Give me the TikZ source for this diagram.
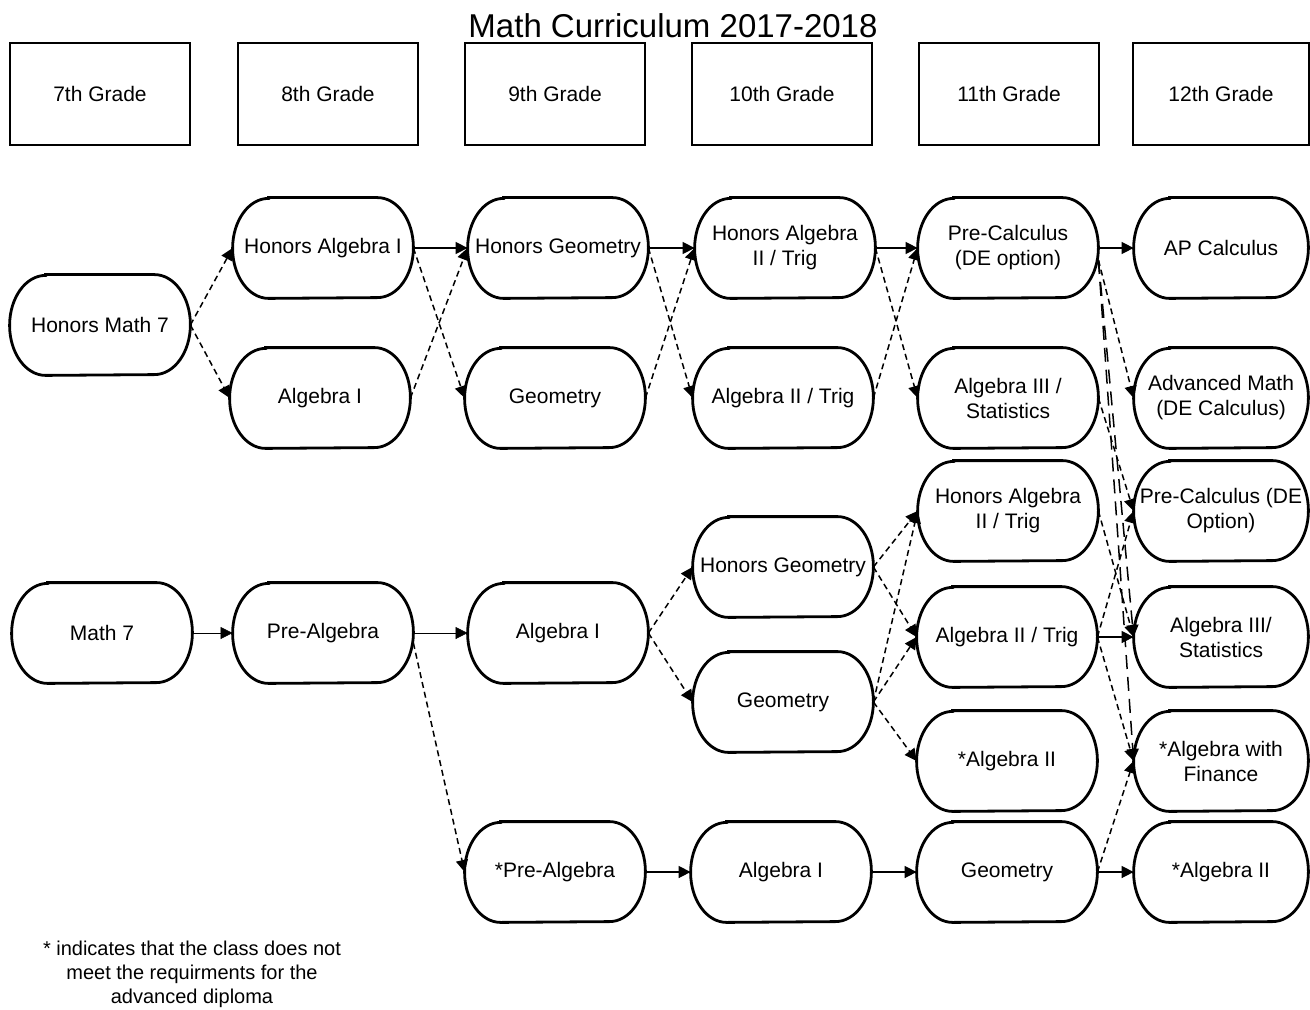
\documentclass[tikz,border=0pt]{standalone}
\usepackage{fontspec}
\setmainfont{Liberation Sans}
\usetikzlibrary{arrows.meta,calc}
\tikzset{
  crs/.style={draw=none, minimum width=90pt, minimum height=50pt, inner sep=0pt, align=center, font=\fontsize{10.5}{12.5}\selectfont},
  crsline/.style={line width=1.4pt},
  hdr/.style={draw, line width=1.2pt, minimum width=90pt, minimum height=51pt, inner sep=0pt, font=\fontsize{10.5}{12.5}\selectfont},
  conn/.style={line width=0.75pt, -{Triangle[length=6pt,width=6pt]}},
  sdash/.style={conn, dash pattern=on 3pt off 2pt},
  ldash/.style={conn, dash pattern=on 7pt off 4pt},
}
\newcommand{\course}[5][90pt]{%
  \node[crs, minimum width=#1] (#2) at (#3,#4) {#5};
  \draw[crsline] ([xshift=18pt]#2.north west) -- ([xshift=-18pt]#2.north east)
    arc[start angle=90,end angle=0,x radius=18pt,y radius=25pt]
    arc[start angle=0,end angle=-90,x radius=18pt,y radius=25pt]
    -- ([xshift=18pt]#2.south west)
    arc[start angle=270,end angle=180,x radius=18pt,y radius=25pt]
    arc[start angle=180,end angle=90,x radius=18pt,y radius=25pt] -- cycle;
}
\begin{document}
\begin{tikzpicture}[x=0.5pt,y=-0.5pt]
\useasboundingbox (0,0) rectangle (1310,1010);
% title
\node[font=\fontsize{16.5}{20}\selectfont] (title) at (673,26) {Math Curriculum 2017-2018};
% headers
\node[hdr] (h7) at (100,94) {7th Grade};
\node[hdr] (h8) at (328,94) {8th Grade};
\node[hdr] (h9) at (555,94) {9th Grade};
\node[hdr] (h10) at (782,94) {10th Grade};
\node[hdr] (h11) at (1009,94) {11th Grade};
\node[hdr, minimum width=88pt] (h12) at (1221,94) {12th Grade};
% upper track
\course{HM7}{100}{325}{Honors Math 7}
\course{HA1}{323}{248}{Honors Algebra I}
\course{A1}{320}{398}{Algebra I}
\course{HG}{558}{248}{Honors Geometry}
\course{G}{555}{398}{Geometry}
\course{HA2}{785}{248}{Honors Algebra\\II / Trig}
\course{A2}{783}{398}{Algebra II / Trig}
\course{PC}{1008}{248}{Pre-Calculus\\(DE option)}
\course{A3}{1008}{398}{Algebra III /\\Statistics}
\course[87pt]{AP}{1221}{248}{AP Calculus}
\course[87pt]{AM}{1221}{398}{Advanced Math\\(DE Calculus)}
\course[87pt]{PCD}{1221}{511}{Pre-Calculus (DE\\Option)}
% lower track
\course{M7}{102}{633}{Math 7}
\course{PA}{323}{633}{Pre-Algebra}
\course{A19}{558}{633}{Algebra I}
\course{PA9}{555}{872}{*Pre-Algebra}
\course{HG10}{783}{567}{Honors Geometry}
\course{G10}{783}{702}{Geometry}
\course{A110}{781}{872}{Algebra I}
\course{HA2L}{1008}{511}{Honors Algebra\\II / Trig}
\course{A2L}{1007}{637}{Algebra II / Trig}
\course{A2S}{1007}{761}{*Algebra II}
\course{GL}{1007}{872}{Geometry}
\course[87pt]{A3R}{1221}{637}{Algebra III/\\Statistics}
\course[87pt]{AwF}{1221}{761}{*Algebra with\\Finance}
\course[87pt]{A2R}{1221}{872}{*Algebra II}
% footnote
\node[align=center, font=\fontsize{10}{12}\selectfont] (note) at (192,974) {* indicates that the class does not\\meet the requirments for the\\advanced diploma};
% upper connectors
\draw[sdash] (HM7.east) -- (HA1.west);
\draw[sdash] (HM7.east) -- (A1.west);
\draw[conn] (HA1.east) -- (HG.west);
\draw[sdash] (HA1.east) -- (G.west);
\draw[sdash] (A1.east) -- (HG.west);
\draw[conn] (HG.east) -- (HA2.west);
\draw[sdash] (HG.east) -- (A2.west);
\draw[sdash] (G.east) -- (HA2.west);
\draw[conn] (HA2.east) -- (PC.west);
\draw[sdash] (HA2.east) -- (A3.west);
\draw[sdash] (A2.east) -- (PC.west);
\draw[conn] (PC.east) -- (AP.west);
\draw[sdash] ([yshift=-6pt]PC.east) -- (AM.west);
\draw[ldash] ([yshift=-6pt]PC.east) -- (A3R.west);
\draw[ldash] ([yshift=-6pt]PC.east) -- (AwF.west);
\draw[sdash] (A3.east) -- (PCD.west);
% lower connectors
\draw[conn, line width=0.3pt] (M7.east) -- (PA.west);
\draw[conn, line width=0.3pt] (PA.east) -- (A19.west);
\draw[sdash] ([yshift=-5pt]PA.east) -- (PA9.west);
\draw[sdash] (A19.east) -- (HG10.west);
\draw[sdash] (A19.east) -- (G10.west);
\draw[sdash] (HG10.east) -- (HA2L.west);
\draw[sdash] (HG10.east) -- (A2L.west);
\draw[sdash] (G10.east) -- (HA2L.west);
\draw[sdash] (G10.east) -- (A2L.west);
\draw[sdash] (G10.east) -- (A2S.west);
\draw[conn] (PA9.east) -- (A110.west);
\draw[conn] (A110.east) -- (GL.west);
\draw[conn] (GL.east) -- (A2R.west);
\draw[sdash] (GL.east) -- (AwF.west);
\draw[conn] (A2L.east) -- (A3R.west);
\draw[sdash] (A2L.east) -- (PCD.west);
\draw[sdash] (A2L.east) -- (AwF.west);
\draw[sdash] (HA2L.east) -- (A3R.west);
\end{tikzpicture}
\end{document}
